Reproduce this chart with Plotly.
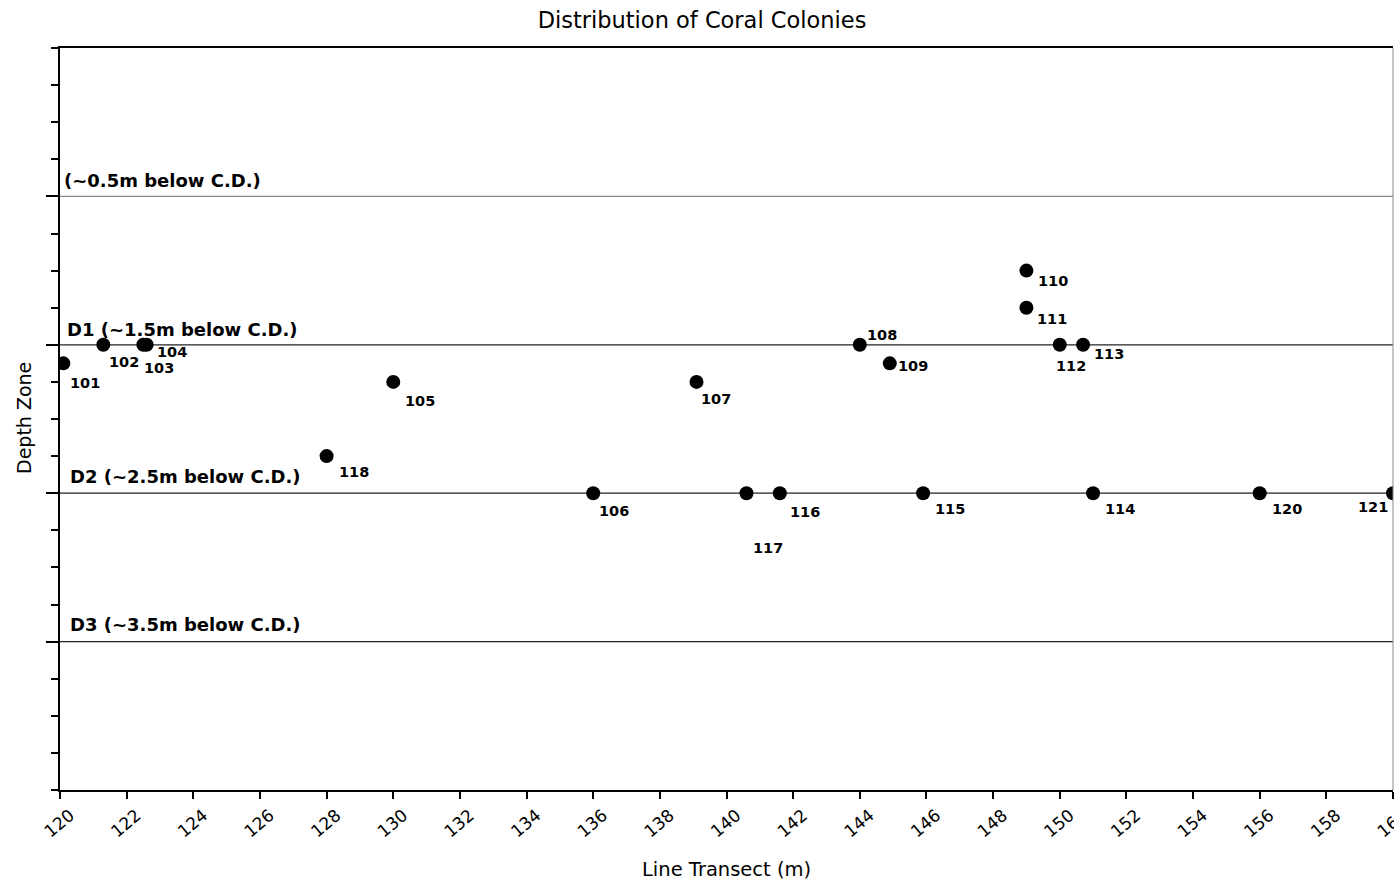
import plotly.graph_objects as go

# ---------------- data ----------------
colony_ids = ["101", "102", "103", "104", "105", "106", "107", "108", "109", "110",
              "111", "112", "113", "114", "115", "116", "117", "118", "120", "121"]
transect_m = [120.1, 121.3, 122.5, 122.6, 130.0, 136.0, 139.1, 144.0, 144.9, 149.0,
              149.0, 150.0, 150.7, 151.0, 145.9, 141.6, 140.6, 128.0, 156.0, 160.0]
depth_m = [1.625, 1.5, 1.5, 1.5, 1.75, 2.5, 1.75, 1.5, 1.625, 1.0,
           1.25, 1.5, 1.5, 2.5, 2.5, 2.5, 2.5, 2.25, 2.5, 2.5]

zone_depths = [0.5, 1.5, 2.5, 3.5]
zone_labels = ["(~0.5m below C.D.)", "D1 (~1.5m below C.D.)",
               "D2 (~2.5m below C.D.)", "D3 (~3.5m below C.D.)"]

x_ticks = list(range(120, 161, 2))

# ---------------- styling ----------------
# label offsets in screen pixels (dx right, dy down) for each colony label
label_offsets = [(22, 20), (21, 17), (16, 23), (25, 7), (27, 19), (21, 18), (19, 17),
                 (22, -10), (23, 3), (27, 10), (26, 11), (11, 21), (26, 9), (27, 16),
                 (27, 16), (25, 19), (22, 55), (27, 16), (27, 16), (-20, 14)]
zone_line_colors = ["#8a8a8a", "#222222", "#222222", "#222222"]
zone_label_style = [(2, 16), (5, 15), (8, 17), (8, 17)]  # (xshift, yshift-up)

FONT = "DejaVu Sans"

fig = go.Figure()

fig.add_trace(go.Scatter(
    x=transect_m, y=depth_m, mode="markers",
    marker=dict(color="black", size=14),
    hoverinfo="text", text=colony_ids, showlegend=False,
))

annotations = []
for cid, xv, yv, (dx, dy) in zip(colony_ids, transect_m, depth_m, label_offsets):
    annotations.append(dict(
        x=xv, y=yv, xref="x", yref="y", text=cid, showarrow=False,
        xshift=dx, yshift=-dy, xanchor="center", yanchor="middle",
        font=dict(family=FONT, size=14.5, color="black", weight="bold"),
    ))

shapes = []
for d, lbl, col, (xs, ys) in zip(zone_depths, zone_labels, zone_line_colors, zone_label_style):
    shapes.append(dict(type="line", xref="paper", yref="y", x0=0, x1=1, y0=d, y1=d,
                       line=dict(color=col, width=1.2), layer="below"))
    annotations.append(dict(
        x=0, y=d, xref="paper", yref="y", text=lbl, showarrow=False,
        xshift=xs, yshift=ys, xanchor="left", yanchor="middle",
        font=dict(family=FONT, size=18, color="black", weight="bold"),
    ))

# right border (thin grey)
shapes.append(dict(type="line", xref="paper", yref="paper", x0=1, x1=1, y0=0, y1=1,
                   line=dict(color="#8a8a8a", width=1)))

# axis titles
annotations.append(dict(
    x=0.5, y=-(869 - 790) / 742, xref="paper", yref="paper", text="Line Transect (m)",
    showarrow=False, xanchor="center", yanchor="middle",
    font=dict(family=FONT, size=19.5, color="black"),
))
annotations.append(dict(
    x=-(60 - 24) / 1333, y=(790 - 418) / 742, xref="paper", yref="paper", text="Depth Zone",
    showarrow=False, xanchor="center", yanchor="middle", textangle=-90,
    font=dict(family=FONT, size=19, color="black"),
))

fig.update_layout(
    width=1394, height=883,
    margin=dict(l=60, r=1, t=48, b=93, autoexpand=False),
    plot_bgcolor="white", paper_bgcolor="white",
    title=dict(text="Distribution of Coral Colonies", x=702 / 1394, y=1 - 20 / 883,
               xref="container", yref="container", xanchor="center", yanchor="middle",
               font=dict(family=FONT, size=22.5, color="black")),
    shapes=shapes, annotations=annotations,
    showlegend=False,
)

fig.update_xaxes(
    range=[120, 160], tickmode="array", tickvals=x_ticks,
    ticktext=[str(t) for t in x_ticks], tickangle=-40,
    ticks="outside", ticklen=7, tickwidth=2, tickcolor="black",
    ticklabeloverflow="allow", ticklabelshift=10, ticklabelstandoff=0,
    automargin=False,
    showline=True, linewidth=2, linecolor="black", mirror=True,
    showgrid=False, zeroline=False,
    tickfont=dict(family=FONT, size=17, color="black"),
)
fig.update_yaxes(
    range=[4.5, -0.5], tickmode="array", tickvals=zone_depths,
    showticklabels=False, ticks="outside", ticklen=12, tickwidth=1.5, tickcolor="black",
    minor=dict(dtick=0.25, tick0=0, ticks="outside", ticklen=7, tickwidth=1.5,
               tickcolor="black", showgrid=False),
    automargin=False,
    showline=True, linewidth=2, linecolor="black",
    showgrid=False, zeroline=False,
)

fig.write_html("out.html")
